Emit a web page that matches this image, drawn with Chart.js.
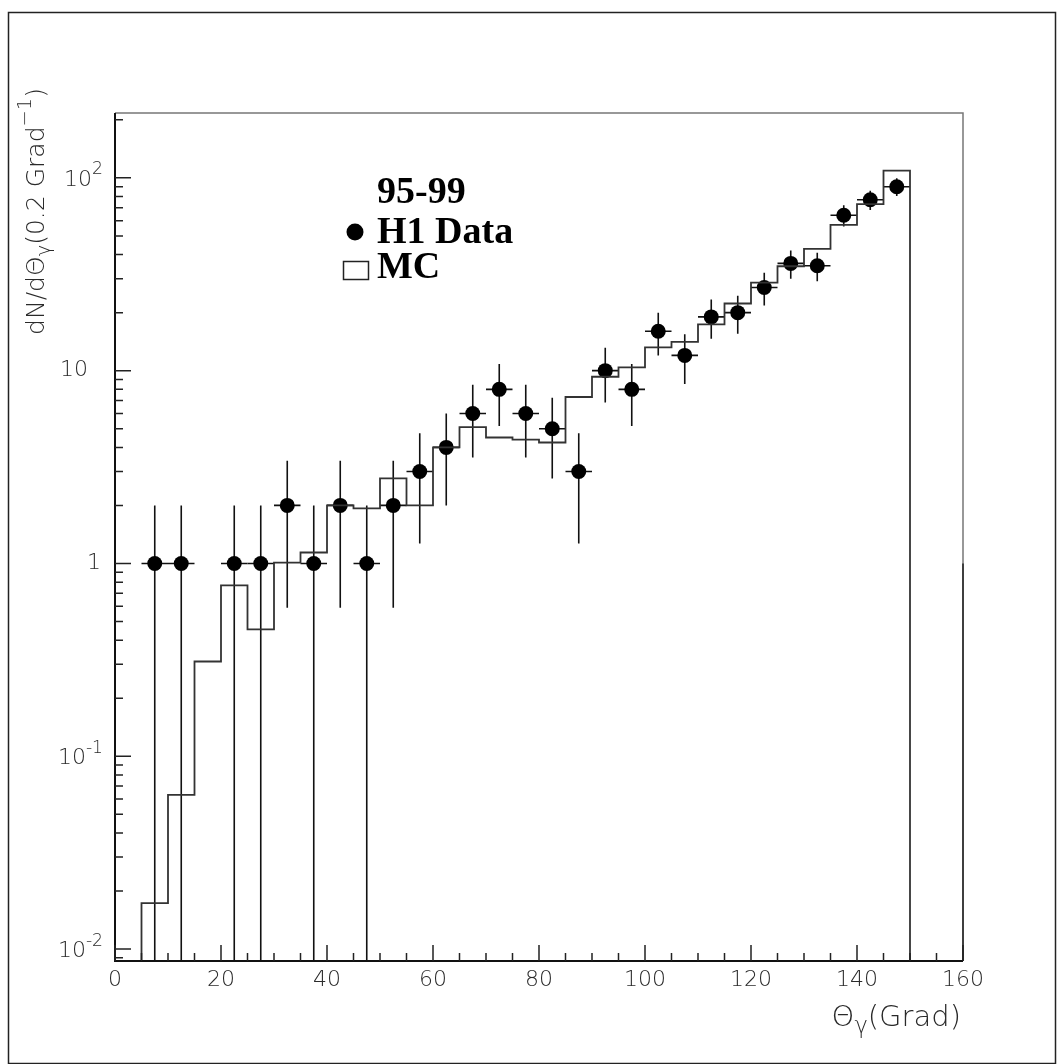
<!DOCTYPE html>
<html>
<head>
<meta charset="utf-8">
<script src="https://cdn.jsdelivr.net/npm/chart.js@4.4.1/dist/chart.umd.min.js"></script>
<style>
  body { margin: 0; background: #fff; }
  canvas { display: block; }
</style>
</head>
<body>
<canvas id="c" width="1061" height="1064"></canvas>
<script>
// H1 data points (bin centres, counts, errors)
const dataX = [7.5, 12.5, 22.5, 27.5, 32.5, 37.5, 42.5, 47.5, 52.5, 57.5, 62.5, 67.5, 72.5, 77.5,
               82.5, 87.5, 92.5, 97.5, 102.5, 107.5, 112.5, 117.5, 122.5, 127.5, 132.5, 137.5, 142.5, 147.5];
const dataN = [1, 1, 1, 1, 2, 1, 2, 1, 2, 3, 4, 6, 8, 6,
               5, 3, 10, 8, 16, 12, 19, 20, 27, 36, 35, 64, 77, 90];
const dataErr = [1, 1, 1, 1, 1.41, 1, 1.41, 1, 1.41, 1.73, 2, 2.45, 2.83, 2.45,
                 2.24, 1.73, 3.16, 2.83, 4, 3.46, 4.36, 4.47, 5.2, 6, 5.92, 8, 8.77, 9.49];
const binHalf = 2.5;

// MC histogram
const mcEdges = [5, 10, 15, 20, 25, 30, 35, 40, 45, 50, 55, 60, 65, 70, 75, 80, 85, 90, 95, 100,
                 105, 110, 115, 120, 125, 130, 135, 140, 145, 150];
const mcValues = [0.0173, 0.063, 0.31, 0.77, 0.455, 1.01, 1.14, 2.0, 1.93, 2.76, 2.0, 4.0, 5.1, 4.5,
                  4.39, 4.24, 7.3, 9.3, 10.4, 13.2, 14.1, 17.4, 22.3, 28.6, 34.8, 42.8, 57, 73, 109];

// axes
const xMin = 0, xMax = 160;
const yMin = 0.00867, yMax = 217;
const xMajor = [0, 20, 40, 60, 80, 100, 120, 140, 160];
const xMinorStep = 5;
const yMajor = [0.01, 0.1, 1, 10, 100];
const yLabels = [['10', '-2'], ['10', '-1'], ['1', ''], ['10', ''], ['10', '2']];

const tickFont = "'DejaVu Sans'";
const ink = '#2a2a2a';

// histogram outline points (stepped line)
const mcPoints = [{ x: mcEdges[0], y: yMin }];
mcValues.forEach((v, i) => mcPoints.push({ x: mcEdges[i], y: v }));
mcPoints.push({ x: mcEdges[mcEdges.length - 1], y: mcValues[mcValues.length - 1] });
mcPoints.push({ x: mcEdges[mcEdges.length - 1], y: yMin });

const points = dataX.map((x, i) => ({ x: x, y: dataN[i] }));

function richText(ctx, parts, x, y, size, align) {
  // parts: [text, mode] with mode '', 'sub', 'sup'
  const fontFor = p => '200 ' + (p[1] ? size * 0.78 : size) + 'px ' + tickFont;
  const widths = parts.map(p => {
    ctx.font = fontFor(p);
    return ctx.measureText(p[0]).width;
  });
  const total = widths.reduce((a, b) => a + b, 0);
  let cx = align === 'right' ? x - total : align === 'center' ? x - total / 2 : x;
  ctx.textAlign = 'left';
  ctx.textBaseline = 'middle';
  parts.forEach((p, i) => {
    ctx.font = fontFor(p);
    let dy = 0;
    if (p[1] === 'sub') dy = size * 0.3;
    if (p[1] === 'sup') dy = -size * 0.45;
    ctx.fillText(p[0], cx, y + dy);
    cx += widths[i];
  });
}

const decor = {
  id: 'decor',
  beforeDatasetsDraw(chart) {
    const ctx = chart.ctx, xs = chart.scales.x, ys = chart.scales.y, a = chart.chartArea;
    ctx.save();
    ctx.strokeStyle = '#111';
    ctx.lineWidth = 1.6;
    dataX.forEach((x, i) => {
      const px = xs.getPixelForValue(x);
      const lo = dataN[i] - dataErr[i];
      const yTop = Math.max(a.top, ys.getPixelForValue(dataN[i] + dataErr[i]));
      const yBot = lo > yMin ? ys.getPixelForValue(lo) : a.bottom;
      const py = ys.getPixelForValue(dataN[i]);
      ctx.beginPath();
      ctx.moveTo(px, yTop); ctx.lineTo(px, yBot);
      ctx.moveTo(xs.getPixelForValue(x - binHalf), py);
      ctx.lineTo(xs.getPixelForValue(x + binHalf), py);
      ctx.stroke();
    });
    ctx.restore();
  },
  afterDraw(chart) {
    const ctx = chart.ctx, xs = chart.scales.x, ys = chart.scales.y, a = chart.chartArea;
    ctx.save();
    // outer frame
    ctx.strokeStyle = '#222';
    ctx.lineWidth = 1.5;
    ctx.strokeRect(8.5, 12.5, 1047, 1051);

    // plot frame: top and right lighter
    ctx.strokeStyle = '#777';
    ctx.lineWidth = 1.5;
    ctx.beginPath();
    ctx.moveTo(a.left, a.top); ctx.lineTo(a.right, a.top); ctx.lineTo(a.right, a.bottom);
    ctx.stroke();
    // right edge is darker below 1
    ctx.strokeStyle = '#222';
    ctx.beginPath();
    ctx.moveTo(a.right, ys.getPixelForValue(1)); ctx.lineTo(a.right, a.bottom);
    ctx.stroke();
    ctx.strokeStyle = '#111';
    ctx.lineWidth = 2;
    ctx.beginPath();
    ctx.moveTo(a.left, a.top); ctx.lineTo(a.left, a.bottom); ctx.lineTo(a.right, a.bottom);
    ctx.stroke();

    // x ticks
    ctx.lineWidth = 1.5;
    ctx.strokeStyle = '#222';
    ctx.beginPath();
    for (let v = xMin; v <= xMax; v += xMinorStep) {
      const px = xs.getPixelForValue(v);
      const len = xMajor.includes(v) ? 16 : 8;
      ctx.moveTo(px, a.bottom); ctx.lineTo(px, a.bottom - len);
    }
    // y ticks
    yMajor.forEach(d => {
      for (let k = 1; k <= 9; k++) {
        const v = d * k;
        if (v < yMin || v > yMax) continue;
        const py = ys.getPixelForValue(v);
        ctx.moveTo(a.left, py); ctx.lineTo(a.left + (k === 1 ? 16 : 8), py);
      }
    });
    const below = yMajor[0] / 10;
    for (let k = 2; k <= 9; k++) {
      const v = below * k;
      if (v < yMin) continue;
      const py = ys.getPixelForValue(v);
      ctx.moveTo(a.left, py); ctx.lineTo(a.left + 8, py);
    }
    ctx.stroke();

    // tick labels
    ctx.fillStyle = ink;
    xMajor.forEach(v => {
      richText(ctx, [[String(v), '']], xs.getPixelForValue(v), 980, 22, 'center');
    });
    yMajor.forEach((v, i) => {
      const py = ys.getPixelForValue(v);
      const lab = yLabels[i];
      if (lab[1]) richText(ctx, [[lab[0], ''], [lab[1], 'sup']], 103, py + 2, 22, 'right');
      else if (lab[0] === '1') richText(ctx, [['1', '']], 101, py, 22, 'right');
      else richText(ctx, [[lab[0], '']], 88, py, 22, 'right');
    });

    // axis titles
    richText(ctx, [['\u0398', ''], ['\u03b3', 'sub'], ['(Grad)', '']], 961, 1018, 29, 'right');
    ctx.save();
    ctx.translate(37, 88);
    ctx.rotate(-Math.PI / 2);
    richText(ctx, [['dN/d\u0398', ''], ['\u03b3', 'sub'], ['(0.2 Grad', ''], ['\u22121', 'sup'], [')', '']], 0, 0, 25, 'right');
    ctx.restore();

    // legend
    ctx.fillStyle = '#000';
    ctx.font = "bold 38px 'Liberation Serif'";
    ctx.textAlign = 'left';
    ctx.textBaseline = 'middle';
    ctx.fillText('95-99', 377, 193);
    ctx.fillText('H1 Data', 377, 233);
    ctx.fillText('MC', 377, 268);
    ctx.beginPath();
    ctx.arc(355, 232, 8.5, 0, Math.PI * 2);
    ctx.fill();
    ctx.strokeStyle = '#222';
    ctx.lineWidth = 1.5;
    ctx.strokeRect(343.5, 261.5, 25, 18);
    ctx.restore();
  }
};

new Chart(document.getElementById('c'), {
  type: 'scatter',
  data: {
    datasets: [
      {
        label: 'MC',
        type: 'line',
        data: mcPoints,
        stepped: true,
        borderColor: '#333',
        borderWidth: 1.8,
        pointRadius: 0,
        fill: false
      },
      {
        label: 'H1 Data',
        data: points,
        pointRadius: 7.5,
        pointBackgroundColor: '#000',
        pointBorderWidth: 0,
        showLine: false
      }
    ]
  },
  options: {
    responsive: false,
    animation: false,
    devicePixelRatio: 1,
    layout: { padding: { left: 115, top: 113, right: 98, bottom: 103 } },
    plugins: { legend: { display: false }, tooltip: { enabled: false } },
    scales: {
      x: { type: 'linear', min: xMin, max: xMax, display: false },
      y: { type: 'logarithmic', min: yMin, max: yMax, display: false }
    }
  },
  plugins: [decor]
});
</script>
</body>
</html>
